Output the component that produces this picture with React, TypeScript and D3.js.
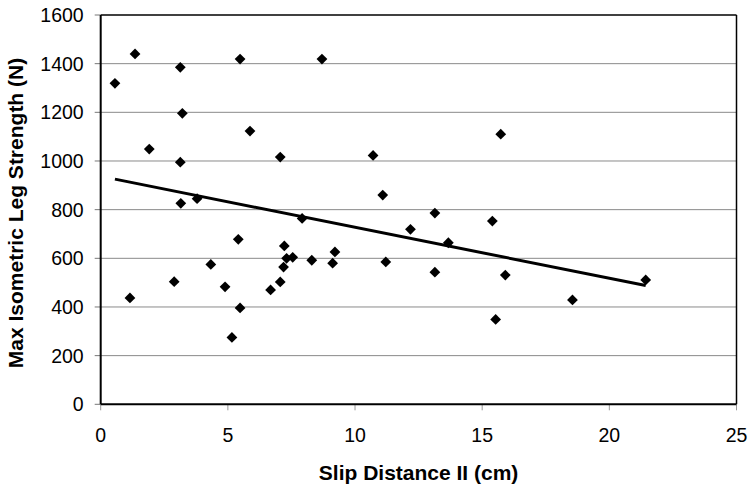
import React from 'react';
import * as d3 from 'd3';

// Slip distance (cm) and max isometric leg strength (N)
const slipDistance = [
  0.56, 1.35, 1.15, 1.91, 2.89, 3.13, 3.21, 3.13, 3.15, 3.79,
  4.33, 4.89, 5.16, 5.41, 5.48, 5.48, 5.87, 6.68, 7.06, 7.06,
  7.22, 7.19, 7.31, 7.55, 7.92, 8.3, 8.7, 9.12, 9.21, 10.71,
  11.09, 11.21, 12.18, 13.14, 13.14, 13.67, 15.4, 15.53, 15.73, 15.91,
  18.55, 21.43,
];
const legStrength = [
  1319, 1440, 437, 1049, 504, 1385, 1196, 995, 826, 845,
  575, 483, 275, 678, 396, 1419, 1123, 470, 503, 1016,
  651, 564, 600, 604, 764, 592, 1419, 580, 626, 1023,
  860, 585, 719, 786, 543, 664, 753, 349, 1110, 531,
  429, 511,
];

const xTicks = [0, 5, 10, 15, 20, 25];
const yTicks = [0, 200, 400, 600, 800, 1000, 1200, 1400, 1600];

const xTitle = 'Slip Distance II (cm)';
const yTitle = 'Max Isometric Leg Strength (N)';

const W = 754;
const H = 491;
const margin = { top: 15, right: 17.5, bottom: 86.7, left: 100.7 };
const font = '"Liberation Sans", Arial, sans-serif';

const App: React.FC = () => {
  const innerW = W - margin.left - margin.right;
  const innerH = H - margin.top - margin.bottom;

  const x = d3.scaleLinear().domain([0, 25]).range([0, innerW]);
  const y = d3.scaleLinear().domain([0, 1600]).range([innerH, 0]);

  const points = slipDistance.map((d, i) => ({ x: d, y: legStrength[i] }));

  // least squares trendline over the data range
  const mx = d3.mean(points, p => p.x) as number;
  const my = d3.mean(points, p => p.y) as number;
  const sxy = d3.sum(points, p => (p.x - mx) * (p.y - my));
  const sxx = d3.sum(points, p => (p.x - mx) ** 2);
  const slope = sxy / sxx;
  const intercept = my - slope * mx;
  const [x0, x1] = d3.extent(slipDistance) as [number, number];
  const trend = d3.line<number>()
    .x(d => x(d))
    .y(d => y(intercept + slope * d))([x0, x1]);

  const marker = d3.symbol().type(d3.symbolSquare).size(58)() as string;

  return (
    <svg width={W} height={H} style={{ position: 'absolute', left: 0, top: 0, background: '#fff' }}>
      <g transform={`translate(${margin.left},${margin.top})`}>
        {/* gridlines */}
        {yTicks.slice(1, -1).map(t => (
          <line key={t} x1={0} x2={innerW} y1={y(t)} y2={y(t)} stroke="#8a8a8a" strokeWidth={1} />
        ))}

        {/* frame */}
        <line x1={0} x2={innerW} y1={0} y2={0} stroke="#000" strokeWidth={1.5} />
        <line x1={innerW} x2={innerW} y1={0} y2={innerH} stroke="#000" strokeWidth={1.5} />

        {/* y axis */}
        {yTicks.map(t => (
          <g key={t} transform={`translate(0,${y(t)})`}>
            <line x1={-6} x2={0} stroke="#777" strokeWidth={1} />
            <text x={-17} dy="0.36em" textAnchor="end" fontFamily={font} fontSize={19.5} fill="#000">
              {t}
            </text>
          </g>
        ))}

        {/* x axis */}
        {xTicks.map(t => (
          <g key={t} transform={`translate(${x(t)},${innerH})`}>
            <line y1={0} y2={6} stroke="#999" strokeWidth={1} />
            <text y={31} dy="0.36em" textAnchor="middle" fontFamily={font} fontSize={19.5} fill="#000">
              {t}
            </text>
          </g>
        ))}

        <line x1={0} x2={0} y1={0} y2={innerH} stroke="#000" strokeWidth={2} />
        <line x1={0} x2={innerW} y1={innerH} y2={innerH} stroke="#000" strokeWidth={2} />

        {/* points */}
        {points.map((p, i) => (
          <path key={i} d={marker} transform={`translate(${x(p.x)},${y(p.y)}) rotate(45)`} fill="#000" />
        ))}

        {/* trendline */}
        <path d={trend ?? ''} fill="none" stroke="#000" strokeWidth={3} />
      </g>

      <text x={margin.left + innerW / 2} y={480} textAnchor="middle" fontFamily={font}
        fontSize={21} fontWeight="bold" fill="#000">
        {xTitle}
      </text>
      <text transform="translate(22.7,213) rotate(-90)" textAnchor="middle" fontFamily={font}
        fontSize={21} fontWeight="bold" fill="#000">
        {yTitle}
      </text>
    </svg>
  );
};

export default App;
